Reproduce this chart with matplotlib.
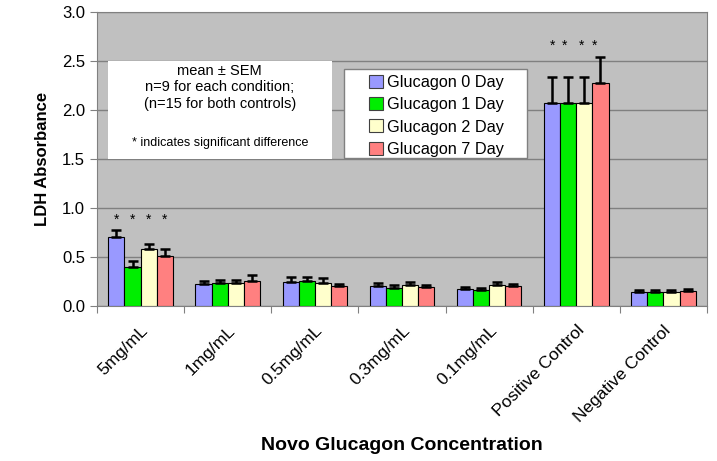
import numpy as np
import matplotlib.pyplot as plt
from matplotlib.patches import Rectangle
from matplotlib.transforms import ScaledTranslation

plt.rcParams['font.family'] = ['Liberation Sans', 'DejaVu Sans']

categories = ['5mg/mL', '1mg/mL', '0.5mg/mL', '0.3mg/mL', '0.1mg/mL',
              'Positive Control', 'Negative Control']
series = ['Glucagon 0 Day', 'Glucagon 1 Day', 'Glucagon 2 Day', 'Glucagon 7 Day']
colors = ['#9999FF', '#00EE00', '#FFFFCC', '#FF8080']

day0 = [0.70, 0.22, 0.25, 0.20, 0.17, 2.07, 0.14]
day1 = [0.40, 0.23, 0.26, 0.18, 0.16, 2.07, 0.14]
day2 = [0.58, 0.23, 0.23, 0.21, 0.21, 2.07, 0.14]
day7 = [0.51, 0.26, 0.20, 0.19, 0.20, 2.28, 0.15]

sem0 = [0.08, 0.04, 0.05, 0.03, 0.02, 0.27, 0.02]
sem1 = [0.06, 0.04, 0.04, 0.03, 0.02, 0.27, 0.02]
sem2 = [0.05, 0.04, 0.06, 0.04, 0.03, 0.27, 0.02]
sem7 = [0.07, 0.06, 0.02, 0.02, 0.02, 0.26, 0.02]

# significance stars: (category, x offset in bar widths, height)
stars = [(0, -1.5, 0.88), (0, -0.5, 0.88), (0, 0.5, 0.88), (0, 1.5, 0.88),
         (5, -1.5, 2.66), (5, -0.7, 2.66), (5, 0.35, 2.66), (5, 1.1, 2.66)]

means = [day0, day1, day2, day7]
sems = [sem0, sem1, sem2, sem7]

fig = plt.figure(figsize=(7.17, 4.61), dpi=100)
ax = fig.add_axes([97 / 717, 155 / 461, 610 / 717, 294 / 461])
ax.set_facecolor('#C0C0C0')

x = np.arange(len(categories))
w = 0.185
for i in range(4):
    pos = x + (i - 1.5) * w
    ax.bar(pos, means[i], w, color=colors[i], edgecolor='black', linewidth=0.8,
           label=series[i], zorder=3)
    ax.errorbar(pos, means[i], yerr=[np.zeros(len(x)), sems[i]], fmt='none',
                ecolor='black', elinewidth=1.8, capsize=3.5, capthick=1.8, zorder=4)

for c, off, h in stars:
    ax.text(x[c] + off * w, h, '*', ha='center', va='center', fontsize=10)

ax.set_xlim(-0.5, len(categories) - 0.5)
ax.set_ylim(0, 3.0)
ax.set_yticks(np.arange(0, 3.01, 0.5))
ax.set_yticklabels(['%.1f' % v for v in np.arange(0, 3.01, 0.5)], fontsize=12)
ax.yaxis.grid(True, color='#808080', linewidth=1, zorder=0)
ax.set_axisbelow(True)

ax.set_xticks(np.arange(-0.5, len(categories), 1.0))
ax.set_xticklabels([])
ax.set_xticks(x, minor=True)
labels = ax.set_xticklabels(categories, minor=True, rotation=45, ha='right',
                            rotation_mode='anchor', fontsize=12.5)
shift = ScaledTranslation(-8 / 100, 0, fig.dpi_scale_trans)
for lab in labels:
    lab.set_transform(lab.get_transform() + shift)
ax.tick_params(axis='x', which='minor', length=0, pad=12)
ax.tick_params(axis='x', which='major', length=5, color='#808080')
ax.tick_params(axis='y', length=5, color='#808080')

for sp in ax.spines.values():
    sp.set_color('#808080')

ax.set_ylabel('LDH Absorbance', fontsize=12, fontweight='bold', labelpad=9)
ax.set_xlabel('Novo Glucagon Concentration', fontsize=14, fontweight='bold', labelpad=9)

# note box
ax.add_patch(Rectangle((-0.374, 1.5), 2.57, 1.0, facecolor='white', edgecolor='none', zorder=2))
ax.text(0.91, 2.40, 'mean \u00b1 SEM', ha='center', va='center', fontsize=10.5, zorder=5)
ax.text(0.91, 2.23, 'n=9 for each condition;', ha='center', va='center', fontsize=10.5, zorder=5)
ax.text(0.91, 2.06, '(n=15 for both controls)', ha='center', va='center', fontsize=10.5, zorder=5)
ax.text(0.91, 1.66, '* indicates significant difference', ha='center', va='center',
        fontsize=9, zorder=5)

# legend box
ax.add_patch(Rectangle((0.405, 0.503), 0.30, 0.303, transform=ax.transAxes,
                       facecolor='white', edgecolor='#808080', linewidth=1, zorder=2))
leg = ax.legend(loc='upper left', bbox_to_anchor=(0.446, 0.787), fontsize=11.7,
                frameon=False, borderpad=0, borderaxespad=0,
                handlelength=0.85, handleheight=0.85, handletextpad=0.25,
                labelspacing=0.45)
leg.set_zorder(6)
for h in leg.legend_handles:
    h.set_edgecolor('#404040')

fig.savefig('out.png', dpi=100)
